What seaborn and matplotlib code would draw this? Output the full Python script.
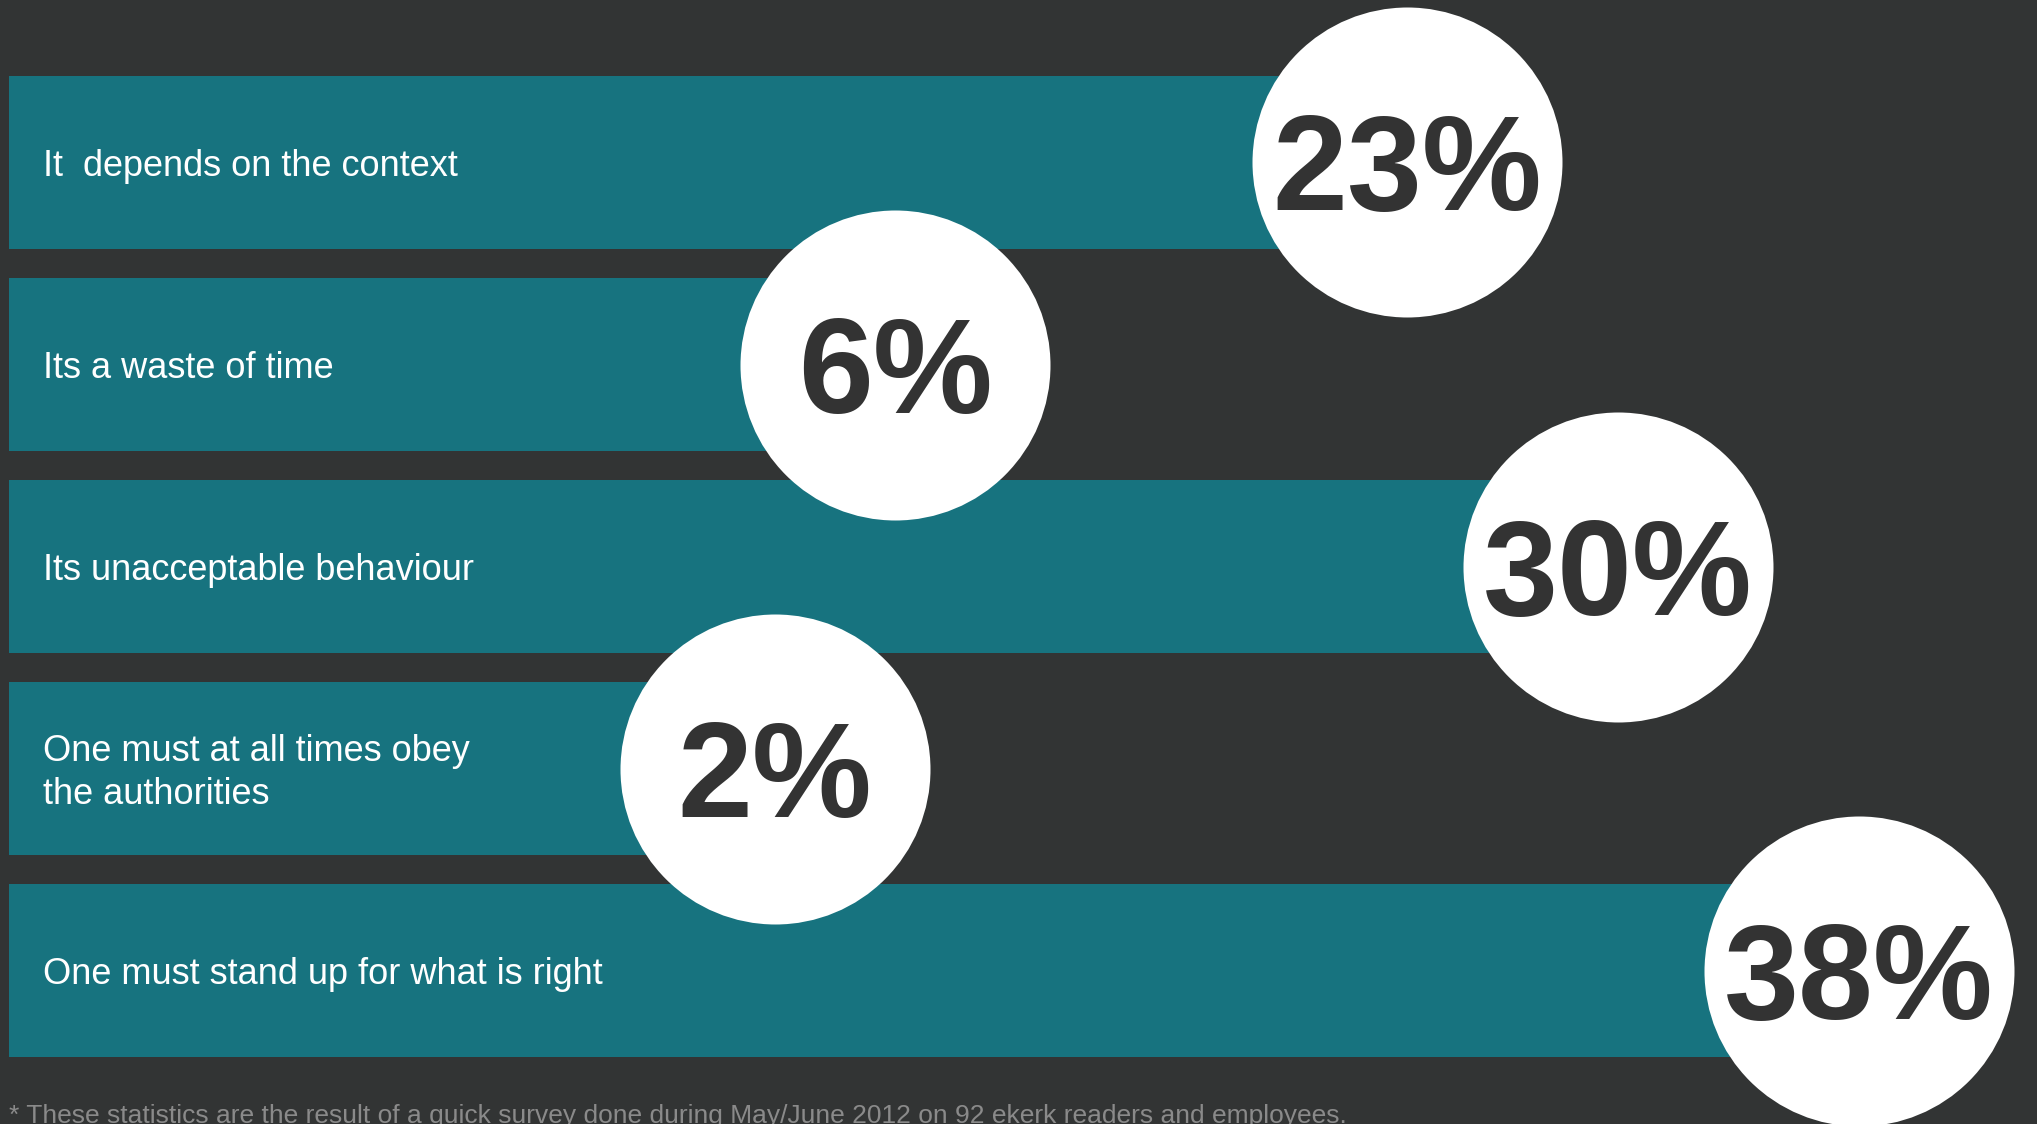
import matplotlib
matplotlib.use("Agg")
import matplotlib.pyplot as plt
import seaborn as sns
import pandas as pd

# ---- data ----
categories = [
    "It  depends on the context",
    "Its a waste of time",
    "Its unacceptable behaviour",
    "One must at all times obey\nthe authorities",
    "One must stand up for what is right",
]
values = [23, 6, 30, 2, 38]
value_labels = ["23%", "6%", "30%", "2%", "38%"]
footnote = ("* These statistics are the result of a quick survey done during "
            "May/June 2012 on 92 ekerk readers and employees.")

# ---- style ----
BG = "#323434"
BAR = "#17737f"
CIRCLE = "#ffffff"
PCT_COLOR = "#333333"
NOTE_COLOR = "#8a8a8a"
LABEL_PAD = 23.45          # room for the text label at the start of each bar
W, H, DPI = 2037, 1124, 100
PX_PER_UNIT = 30.1
BAR_LEFT_PX = 9
ROW_PX = 202.1
FIRST_ROW_PX = 162.5

sns.set_theme(style="white")
plt.rcParams["font.family"] = ["Liberation Sans", "DejaVu Sans"]

fig = plt.figure(figsize=(W / DPI, H / DPI), dpi=DPI, facecolor=BG)
ax = fig.add_axes([0, 0, 1, 1])
ax.set_facecolor(BG)

df = pd.DataFrame({"label": categories, "value": values, "pct": value_labels})
df["bar_end"] = df["value"] + LABEL_PAD
df["pos"] = range(len(df))

sns.barplot(data=df, x="bar_end", y="label", orient="h", color=BAR,
            saturation=1, width=0.856, linewidth=0, edgecolor=BAR,
            ax=ax, zorder=1)

diam_pt = 310 * 72 / DPI
sns.scatterplot(data=df, x="bar_end", y="pos", s=diam_pt ** 2, color=CIRCLE,
                linewidth=0, ax=ax, zorder=5, legend=False)

ax.set_xlim(-BAR_LEFT_PX / PX_PER_UNIT, (W - BAR_LEFT_PX) / PX_PER_UNIT)
ax.set_ylim((H - FIRST_ROW_PX) / ROW_PX, -FIRST_ROW_PX / ROW_PX)
ax.set_axis_off()

ytr = ax.get_yaxis_transform()
for i, row in df.iterrows():
    ax.text(43 / W, row["pos"] + 4 / ROW_PX, row["label"], transform=ytr,
            color="white", fontsize=26, va="center", ha="left",
            linespacing=1.3, zorder=3)
    ax.text(row["bar_end"], row["pos"] + 48 / ROW_PX, row["pct"],
            color=PCT_COLOR, fontsize=97, fontweight="bold",
            ha="center", va="baseline", zorder=6)

fig.text(9 / W, 1 - 1123 / H, footnote, color=NOTE_COLOR, fontsize=19,
         ha="left", va="baseline")

fig.savefig("out.png", dpi=DPI, facecolor=BG)
